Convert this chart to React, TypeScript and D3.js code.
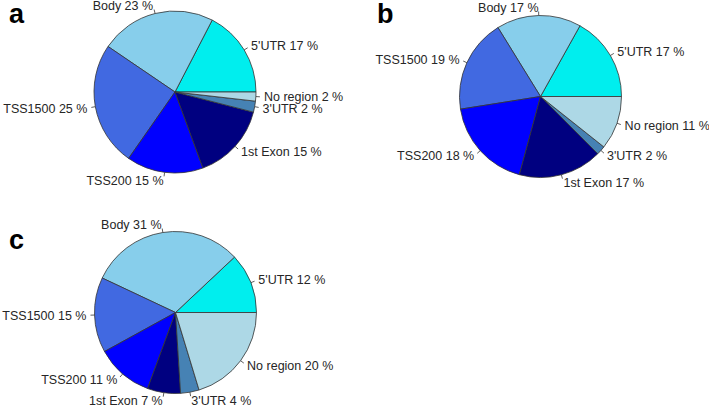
import React, { useEffect, useRef } from 'react';
import * as d3 from 'd3';

// regions, counterclockwise from 3 o'clock (R pie order)
const regions = ["5'UTR", 'Body', 'TSS1500', 'TSS200', '1st Exon', "3'UTR", 'No region'];
const colors = ['#00EEEE', '#87CEEB', '#4169E1', '#0000FF', '#000080', '#4682B4', '#ADD8E6'];

const valuesA = [17.4, 23.1, 24.8, 15.3, 15.4, 2.2, 1.8];
const valuesB = [16.9, 16.9, 18.7, 18.3, 16.7, 1.8, 10.7];
const valuesC = [12.0, 31.0, 15.0, 11.4, 6.6, 3.7, 20.3];

const panels = [
  { letter: 'a', values: valuesA, cx: 175, cy: 92, lx: 9, ly: 23 },
  { letter: 'b', values: valuesB, cx: 540.5, cy: 96.5, lx: 377, ly: 23 },
  { letter: 'c', values: valuesC, cx: 175.5, cy: 312.5, lx: 9, ly: 249 },
];

const R = 81;

const App = () => {
  const svgRef = useRef<SVGSVGElement>(null);

  useEffect(() => {
    const svg = d3.select(svgRef.current);
    svg.selectAll('*').remove();

    const pie = d3.pie<number>()
      .sort(null)
      .startAngle(Math.PI / 2)
      .endAngle(Math.PI / 2 - 2 * Math.PI);

    const arc = d3.arc<d3.PieArcDatum<number>>().innerRadius(0).outerRadius(R);

    panels.forEach(p => {
      const g = svg.append('g').attr('transform', `translate(${p.cx},${p.cy})`);
      const arcs = pie(p.values);

      g.selectAll('path')
        .data(arcs)
        .enter()
        .append('path')
        .attr('d', arc)
        .attr('fill', (d, i) => colors[i])
        .attr('stroke', '#333')
        .attr('stroke-width', 0.8);

      arcs.forEach((d, i) => {
        const mid = (d.startAngle + d.endAngle) / 2;
        const ux = Math.sin(mid);
        const uy = -Math.cos(mid);
        g.append('line')
          .attr('x1', ux * R).attr('y1', uy * R)
          .attr('x2', ux * R * 1.05).attr('y2', uy * R * 1.05)
          .attr('stroke', '#333')
          .attr('stroke-width', 0.8);
        g.append('text')
          .attr('x', ux * R * 1.1)
          .attr('y', uy * R * 1.1)
          .attr('dy', '0.35em')
          .attr('text-anchor', ux < 0 ? 'end' : 'start')
          .attr('font-family', '"Liberation Sans", Arial, sans-serif')
          .attr('font-size', 12.5)
          .attr('fill', '#262626')
          .text(`${regions[i]} ${Math.round(p.values[i])} %`);
      });

      svg.append('text')
        .attr('x', p.lx)
        .attr('y', p.ly)
        .attr('font-family', '"Liberation Sans", Arial, sans-serif')
        .attr('font-size', 27)
        .attr('font-weight', 'bold')
        .attr('fill', '#000')
        .text(p.letter);
    });
  }, []);

  return (
    <svg
      ref={svgRef}
      width={709}
      height={408}
      style={{ position: 'absolute', left: 0, top: 0, background: '#fff' }}
    />
  );
};

export default App;
